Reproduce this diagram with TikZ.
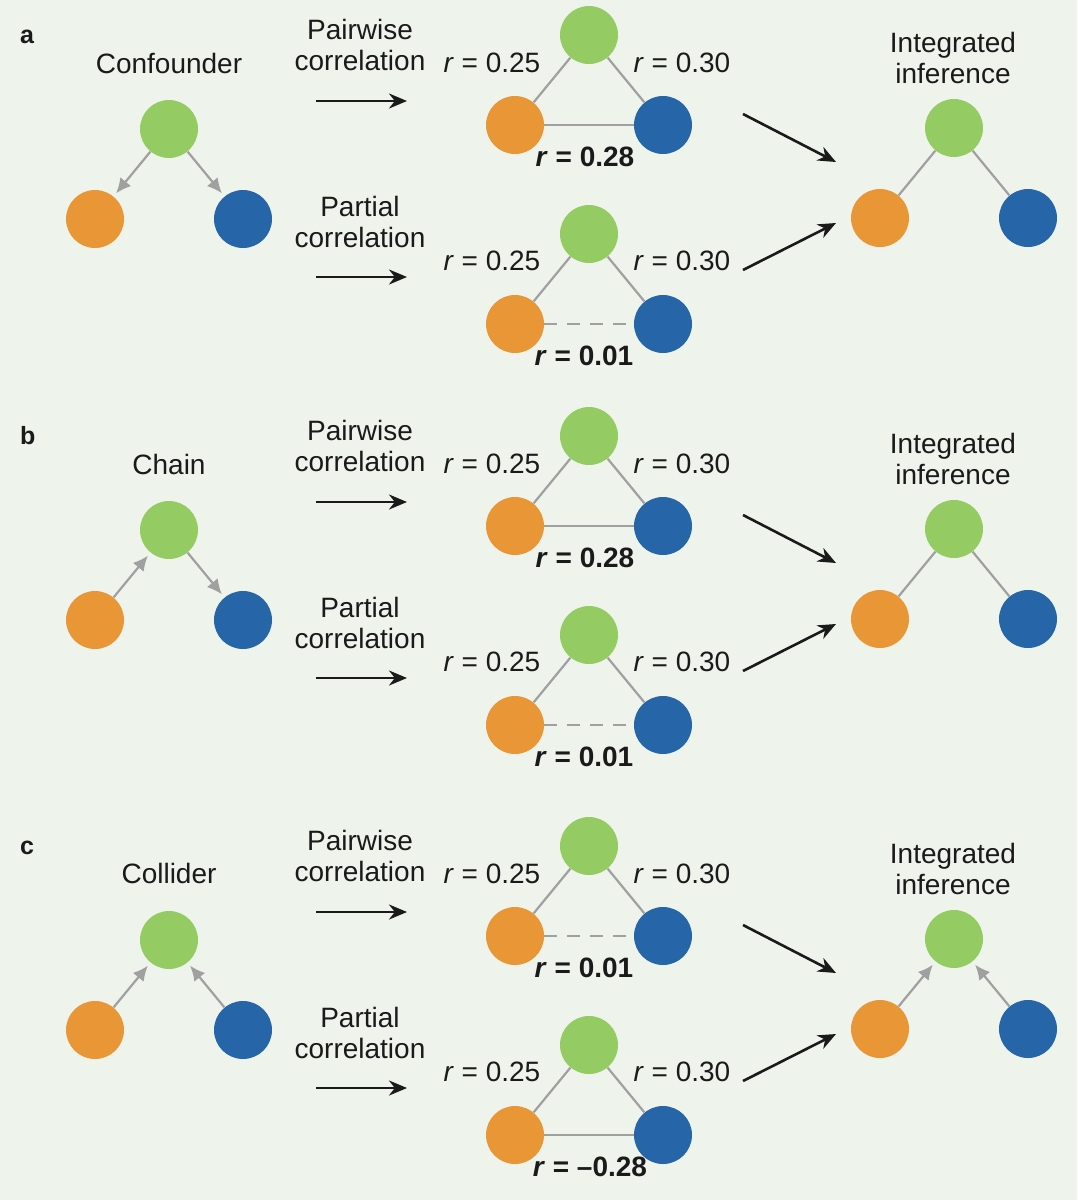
\documentclass[tikz,border=0pt]{standalone}
\usepackage{fontspec}
\setmainfont{Liberation Sans}
\usetikzlibrary{arrows.meta}

\definecolor{bgcol}{HTML}{EEF4EC}
\definecolor{lgreen}{HTML}{94CB62}
\definecolor{lorange}{HTML}{E99636}
\definecolor{lblue}{HTML}{2665A8}
\definecolor{lgray}{HTML}{A0A0A0}
\definecolor{ink}{HTML}{1A1A1A}

% three variables: green on top, orange and blue below
\newcommand{\trio}[3]{%
  \node[gdot] (#1g) at (#2,#3) {};
  \node[odot] (#1o) at (#2-74,#3+90) {};
  \node[bdot] (#1b) at (#2+74,#3+90) {};}

\begin{document}
\begin{tikzpicture}[x=1pt,y=-1pt,
        dot/.style={circle,minimum size=58pt,inner sep=0pt},
        gdot/.style={dot,fill=lgreen},
        odot/.style={dot,fill=lorange},
        bdot/.style={dot,fill=lblue},
        link/.style={draw=lgray,line width=2.2pt},
        nolink/.style={link,dash pattern=on 13pt off 10pt},
        cause/.style={link,-{Latex[length=15pt,width=14pt]},shorten >=4pt},
        flow/.style={draw=ink,line width=2.6pt,-{Stealth[length=18pt,width=15pt]}},
        txt/.style={text=ink,font=\fontsize{28}{31}\selectfont,anchor=base,
            inner sep=0pt,align=center},
        tag/.style={text=ink,font=\fontsize{25}{28}\selectfont\bfseries,
            anchor=base west,inner sep=0pt}]
\fill[bgcol] (0,0) rectangle (1077,1200);
\useasboundingbox (0,0) rectangle (1077,1200);

% parts shared by the three panels
\foreach \p/\dy in {a/0,b/401,c/811}{
\begin{scope}[yshift=-\dy pt]
\node[txt] (\p pw) at (360,70) {Pairwise\\correlation};
\coordinate (\p pw1) at (316,101);
\coordinate (\p pw2) at (407,101);
\draw[flow] (\p pw1) -- (\p pw2);
\node[txt] (\p pc) at (360,247) {Partial\\correlation};
\coordinate (\p pc1) at (316,277);
\coordinate (\p pc2) at (407,277);
\draw[flow] (\p pc1) -- (\p pc2);

\trio{\p t}{589}{35}
\draw[link] (\p tg) -- (\p to);
\draw[link] (\p tg) -- (\p tb);
\node[txt] (\p t25) at (492,72) {\textit{r} = 0.25};
\node[txt] (\p t30) at (682,72) {\textit{r} = 0.30};

\trio{\p q}{589}{234}
\draw[link] (\p qg) -- (\p qo);
\draw[link] (\p qg) -- (\p qb);
\node[txt] (\p q25) at (492,270) {\textit{r} = 0.25};
\node[txt] (\p q30) at (682,270) {\textit{r} = 0.30};

\coordinate (\p in1) at (743,114);
\coordinate (\p in2) at (836,162);
\draw[flow] (\p in1) -- (\p in2);
\coordinate (\p in3) at (743,270);
\coordinate (\p in4) at (836,223);
\draw[flow] (\p in3) -- (\p in4);
\node[txt] (\p int) at (953,83) {Integrated\\inference};
\trio{\p r}{954}{128}
\trio{\p l}{169}{129}
\end{scope}
}

% a: confounder
\node[tag] (atag) at (20,43) {a};
\node[txt] (aname) at (169,73) {Confounder};
\draw[cause] (alg) -- (alo);
\draw[cause] (alg) -- (alb);
\draw[link] (ato) -- (atb);
\node[txt] (at28) at (585,166) {\textbf{\textit{r} = 0.28}};
\draw[nolink] (aqo) -- (aqb);
\node[txt] (aq01) at (584,365) {\textbf{\textit{r} = 0.01}};
\draw[link] (arg) -- (aro);
\draw[link] (arg) -- (arb);

% b: chain
\node[tag] (btag) at (20,444) {b};
\node[txt] (bname) at (169,474) {Chain};
\draw[cause] (blo) -- (blg);
\draw[cause] (blg) -- (blb);
\draw[link] (bto) -- (btb);
\node[txt] (bt28) at (585,567) {\textbf{\textit{r} = 0.28}};
\draw[nolink] (bqo) -- (bqb);
\node[txt] (bq01) at (584,766) {\textbf{\textit{r} = 0.01}};
\draw[link] (brg) -- (bro);
\draw[link] (brg) -- (brb);

% c: collider
\node[tag] (ctag) at (20,854) {c};
\node[txt] (cname) at (169,883) {Collider};
\draw[cause] (clo) -- (clg);
\draw[cause] (clb) -- (clg);
\draw[nolink] (cto) -- (ctb);
\node[txt] (ct01) at (584,977) {\textbf{\textit{r} = 0.01}};
\draw[link] (cqo) -- (cqb);
\node[txt] (cq28) at (590,1176) {\textbf{\textit{r} = –0.28}};
\draw[cause] (cro) -- (crg);
\draw[cause] (crb) -- (crg);

\end{tikzpicture}
\end{document}
